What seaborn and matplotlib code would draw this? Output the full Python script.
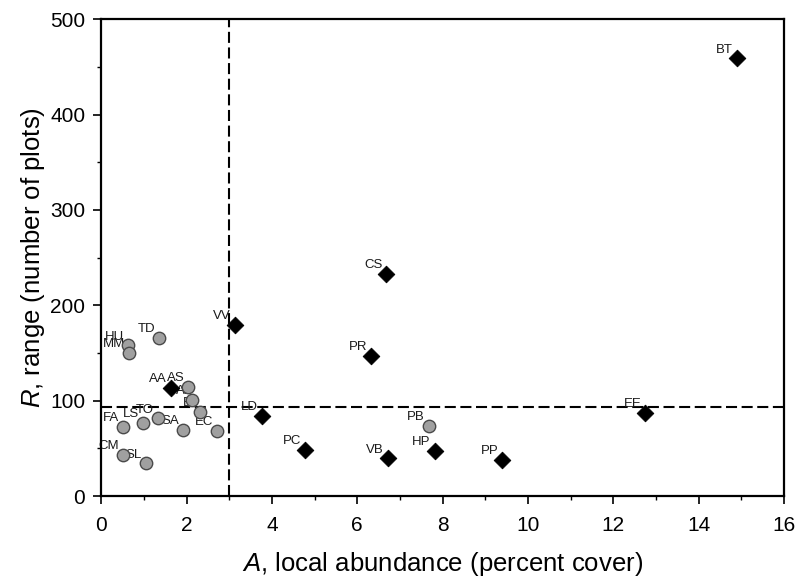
import numpy as np
import pandas as pd
import matplotlib
matplotlib.use("Agg")
import matplotlib.pyplot as plt
from matplotlib.ticker import MultipleLocator
import seaborn as sns

# species codes, abundance (A) and range (R)
circle_codes = ["TD", "HU", "MM", "AS", "AI", "BI", "FA", "LS", "TO", "SA", "EC", "CM", "SL", "PB"]
circle_a = [1.36, 0.62, 0.66, 2.04, 2.13, 2.31, 0.51, 0.98, 1.32, 1.91, 2.71, 0.51, 1.05, 7.67]
circle_r = [166, 158, 150, 114.5, 100.5, 88.5, 72.4, 77, 81.5, 69.3, 68.2, 43, 34.3, 73.8]

diamond_codes = ["BT", "CS", "VV", "PR", "AA", "LD", "EE", "PC", "VB", "HP", "PP"]
diamond_a = [14.90, 6.68, 3.13, 6.32, 1.63, 3.76, 12.75, 4.78, 6.71, 7.81, 9.40]
diamond_r = [459, 232.6, 179.4, 147, 113.5, 84, 87, 48.3, 39.5, 47.2, 37.8]

a_cut = 3
r_cut = 93.5

circles = pd.DataFrame({"code": circle_codes, "A": circle_a, "R": circle_r})
diamonds = pd.DataFrame({"code": diamond_codes, "A": diamond_a, "R": diamond_r})

sns.set_style("ticks")
plt.rcParams["font.family"] = ["Liberation Sans", "DejaVu Sans"]
plt.rcParams["mathtext.fontset"] = "custom"
plt.rcParams["mathtext.it"] = "Liberation Sans:italic"
plt.rcParams["mathtext.rm"] = "Liberation Sans"

fig = plt.figure(figsize=(7.97, 5.80), dpi=100)
ax = fig.add_axes([0.127, 0.1448, 0.8567, 0.8219])

ax.axvline(a_cut, color="black", lw=1.5, ls=(0, (5.3, 2.2)), zorder=1)
ax.axhline(r_cut, color="black", lw=1.5, ls=(0, (5.3, 2.2)), zorder=1)

# labels sit under the markers
for df in (circles, diamonds):
    for _, row in df.iterrows():
        ax.annotate(row["code"], (row["A"], row["R"]), xytext=(-2.8, 2.0),
                    textcoords="offset points", ha="right", va="bottom",
                    fontsize=9.5, color="#1a1a1a", zorder=2)

sns.scatterplot(data=diamonds, x="A", y="R", marker="D", s=72, color="black",
                edgecolor="black", linewidth=0.6, ax=ax, zorder=3, legend=False)
sns.scatterplot(data=circles, x="A", y="R", marker="o", s=80, color="#a0a0a0",
                edgecolor="#4a4a4a", linewidth=1.0, ax=ax, zorder=4, legend=False)

ax.set_xlim(0, 16)
ax.set_ylim(0, 500)
ax.xaxis.set_major_locator(MultipleLocator(2))
ax.xaxis.set_minor_locator(MultipleLocator(1))
ax.yaxis.set_major_locator(MultipleLocator(100))
ax.yaxis.set_minor_locator(MultipleLocator(50))

for s in ax.spines.values():
    s.set_linewidth(1.6)
    s.set_color("black")
ax.tick_params(which="major", direction="out", length=5.5, width=1.2, labelsize=15,
               pad=6, colors="black")
ax.tick_params(axis="x", which="major", pad=9)
ax.tick_params(which="minor", direction="out", length=3.2, width=1.0, colors="black")

ax.set_xlabel(r"$\it{A}$, local abundance (percent cover)", fontsize=18.5, labelpad=11,
              color="black")
ax.set_ylabel(r"$\it{R}$, range (number of plots)", fontsize=18.5, labelpad=2,
              color="black")

fig.savefig("out.png", dpi=100)
